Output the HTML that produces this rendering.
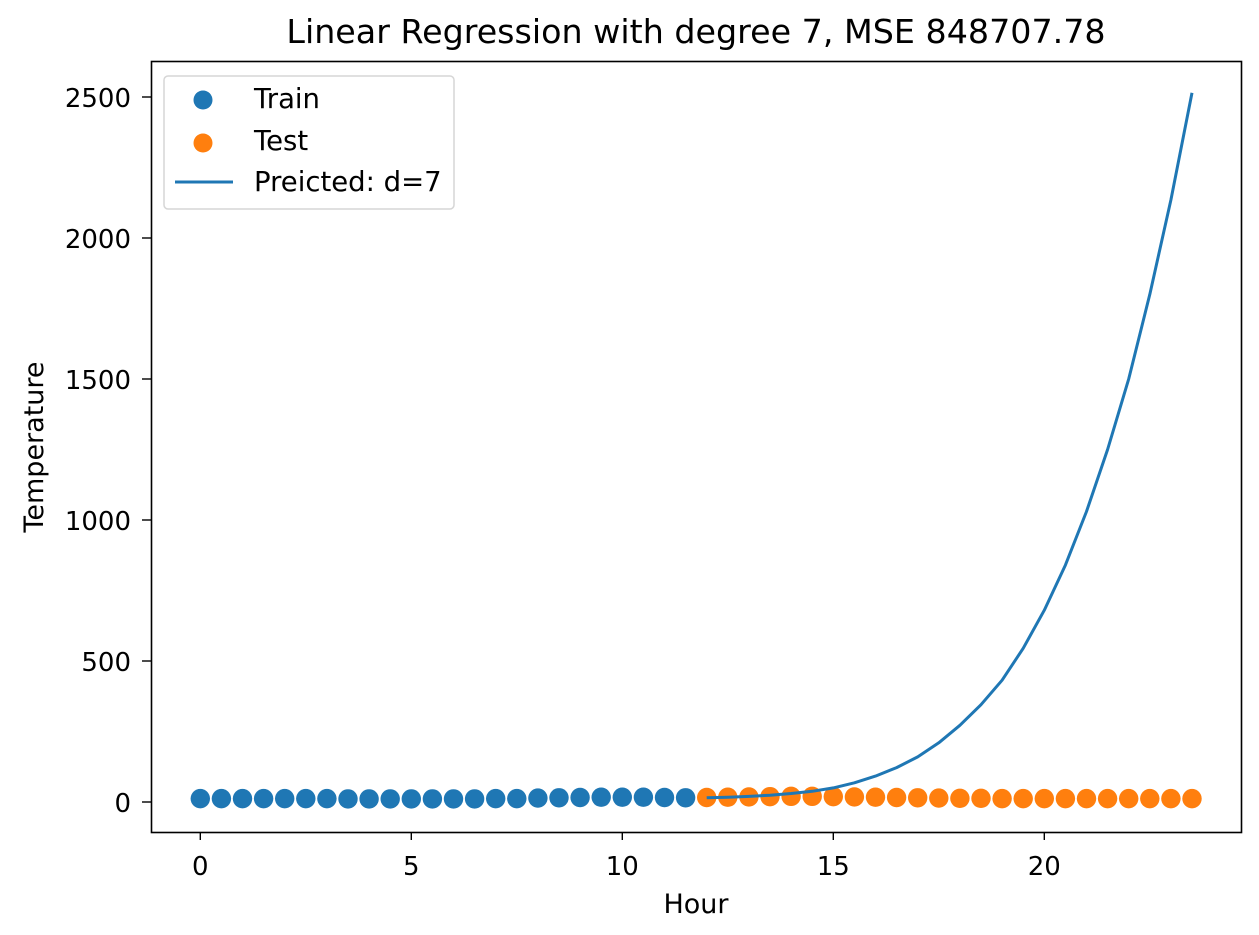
<!DOCTYPE html>
<html><head><meta charset="utf-8">
<style>
html,body{margin:0;padding:0;background:#fff;}
svg text{font-family:"DejaVu Sans","Liberation Sans",sans-serif;fill:#000;}
</style></head>
<body>
<svg id="chart" width="1259" height="930" xmlns="http://www.w3.org/2000/svg">
  <rect x="0" y="0" width="1259" height="930" fill="#fff"/>
  <text x="696" y="43" font-size="33.3px" text-anchor="middle">Linear Regression with degree 7, MSE 848707.78</text>
  <g id="plot"></g>
  <rect x="151.5" y="61.5" width="1090" height="771" fill="none" stroke="#000" stroke-width="1.6"/>
  <text x="696" y="913" font-size="27px" text-anchor="middle">Hour</text>
  <text x="0" y="0" font-size="27px" text-anchor="middle" transform="translate(43,447) rotate(-90)">Temperature</text>
  <g>
    <rect x="164" y="76" width="290" height="133" rx="4" fill="#fff" fill-opacity="0.8" stroke="#d6d6d6" stroke-width="1.5"/>
    <circle cx="203" cy="100" r="9.5" fill="#1f77b4"/>
    <text x="254" y="108" font-size="27.5px">Train</text>
    <circle cx="203" cy="143" r="9.5" fill="#ff7f0e"/>
    <text x="254" y="150" font-size="27.5px">Test</text>
    <line x1="175" y1="182" x2="233" y2="182" stroke="#1f77b4" stroke-width="3"/>
    <text x="254" y="191" font-size="27.5px">Preicted: d=7</text>
  </g>
</svg>
<script>
const trainX = [0,0.5,1,1.5,2,2.5,3,3.5,4,4.5,5,5.5,6,6.5,7,7.5,8,8.5,9,9.5,10,10.5,11,11.5];
const trainY = [12,12,12,12,12,12,12,11,11,11,11,11,11,11,12,12,14,15,16,17,17,17,16,15];
const testX = [12,12.5,13,13.5,14,14.5,15,15.5,16,16.5,17,17.5,18,18.5,19,19.5,20,20.5,21,21.5,22,22.5,23,23.5];
const testY = [16,17,18,19,20,20,19,18,17,16,15,14,13,13,12,12,12,12,12,12,12,12,12,12];
const predX = [12,12.5,13,13.5,14,14.5,15,15.5,16,16.5,17,17.5,18,18.5,19,19.5,20,20.5,21,21.5,22,22.5,23,23.5];
const predY = [15,17,20,24,30,38,50,68,92,122,160,210,272,345,432,545,680,840,1030,1250,1500,1800,2135,2515];
const xTicks = [0,5,10,15,20];
const yTicks = [0,500,1000,1500,2000,2500];

const NS = 'http://www.w3.org/2000/svg';
const plot = document.getElementById('plot');
function sx(v){ return 200.3 + v*42.2; }
function sy(v){ return 802 - v*0.282; }
function mk(tag, attrs){ const e=document.createElementNS(NS,tag); for(const k in attrs) e.setAttribute(k,attrs[k]); return e; }

xTicks.forEach(t=>{
  const l = mk('line',{x1:sx(t),x2:sx(t),y1:833,y2:840,stroke:'#000','stroke-width':1.4});
  
  
  plot.appendChild(l);
  const tx = mk('text',{x:sx(t),y:875,'font-size':'26px','text-anchor':'middle'});
  
  
  tx.textContent = t;
  plot.appendChild(tx);
});
yTicks.forEach(t=>{
  const l = mk('line',{x1:142,x2:151,y1:sy(t),y2:sy(t),stroke:'#000','stroke-width':1.4});
  
  
  plot.appendChild(l);
  const tx = mk('text',{x:131,y:sy(t)+10,'font-size':'26px','text-anchor':'end'});
  
  
  tx.textContent = t;
  plot.appendChild(tx);
});
trainX.forEach((x,i)=>{
  const c = mk('circle',{cx:sx(x),cy:sy(trainY[i]),r:9.7,fill:'#1f77b4'});
  
  
  plot.appendChild(c);
});
testX.forEach((x,i)=>{
  const c = mk('circle',{cx:sx(x),cy:sy(testY[i]),r:9.7,fill:'#ff7f0e'});
  
  
  plot.appendChild(c);
});
const pts = predX.map((x,i)=>sx(x).toFixed(1)+','+sy(predY[i]).toFixed(1)).join(' ');
const pl = mk('polyline',{points:pts,fill:'none',stroke:'#1f77b4','stroke-width':3,'stroke-linejoin':'round'});


plot.appendChild(pl);
</script>
</body></html>
